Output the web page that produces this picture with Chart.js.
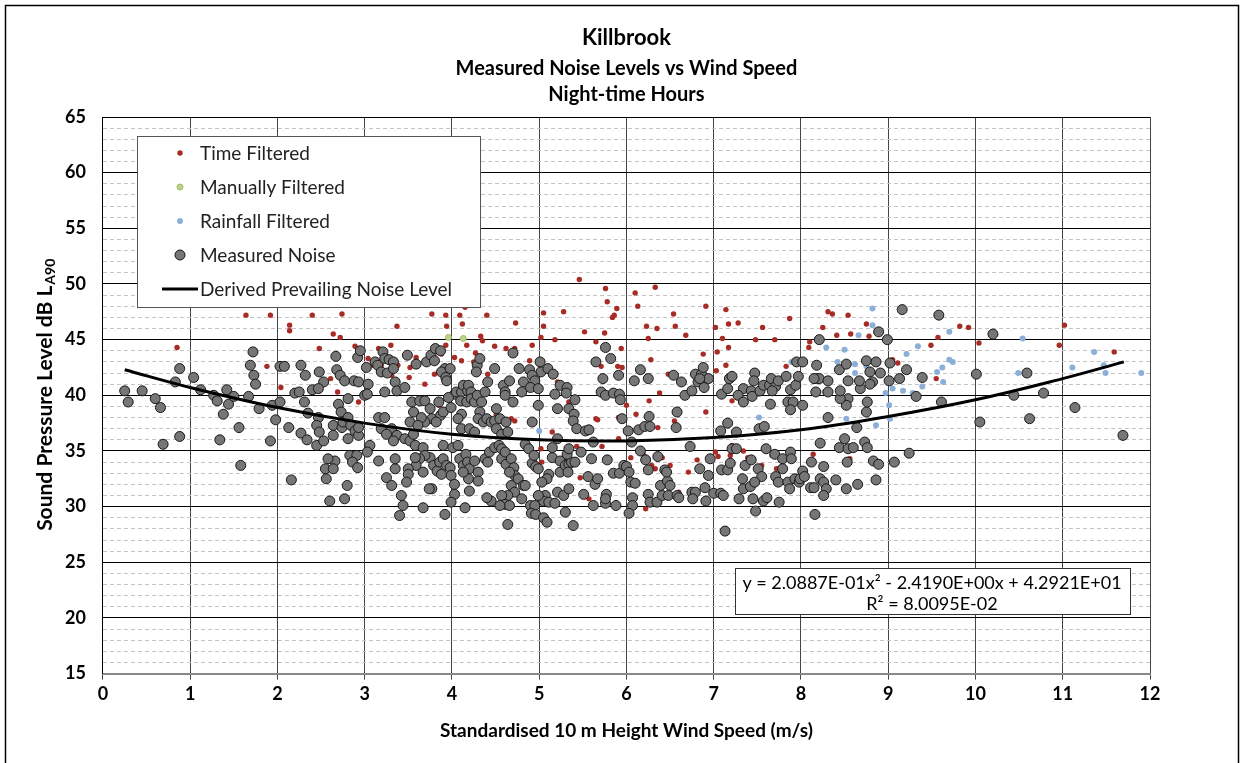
<!DOCTYPE html>
<html>
<head>
<meta charset="utf-8">
<script src="https://cdn.jsdelivr.net/npm/chart.js@4.4.0/dist/chart.umd.min.js"></script>
<style>
  html, body { margin: 0; padding: 0; background: #fff; }
  #wrap { position: relative; width: 1244px; height: 763px; }
</style>
</head>
<body>
<div id="wrap"><canvas id="chart" width="1244" height="763"></canvas></div>
<script>
// Text
const TITLE = 'Killbrook';
const SUBTITLE = ['Measured Noise Levels vs Wind Speed', 'Night-time Hours'];
const X_TITLE = 'Standardised 10 m Height Wind Speed (m/s)';
const Y_TITLE = 'Sound Pressure Level dB L';
const Y_TITLE_SUB = 'A90';
const EQUATION = 'y = 2.0887E-01x\u00B2 - 2.4190E+00x + 4.2921E+01';
const R_SQUARED = 'R\u00B2 = 8.0095E-02';
const FONT = 'Lato, "Open Sans", sans-serif';

// Measured noise (wind speed, dB) - grey points
const measuredNoise = [
  [0.25,40.4],[0.29,39.4],[0.45,40.4],[0.60,39.7],[0.66,38.9],[0.69,35.6],[0.88,42.4],[0.83,41.2],[0.88,36.3],[1.04,41.6],
  [1.12,40.5],[1.27,40.0],[1.31,39.5],[1.34,36.0],[1.38,38.3],[1.42,40.5],[1.44,39.2],[1.50,39.9],[1.56,37.1],[1.58,33.7],
  [1.67,39.9],[1.72,43.9],[1.69,42.7],[1.73,41.8],[1.75,41.0],[1.79,38.8],[1.92,35.9],[1.94,39.1],[1.98,37.8],[2.03,39.4],
  [2.03,42.6],[2.08,42.6],[2.13,37.1],[2.16,32.4],[2.20,40.2],[2.25,40.3],[2.27,42.7],[2.27,36.6],[2.32,41.8],[2.31,39.4],
  [2.34,36.0],[2.35,38.4],[2.40,40.5],
  [2.67,43.5],[2.48,42.1],[2.53,41.2],[2.47,40.6],[2.68,42.3],[2.72,41.8],[2.77,41.3],[2.81,39.7],[2.70,39.2],[2.73,38.5],
  [2.47,38.0],[2.45,37.3],[2.48,36.7],[2.45,35.5],[2.53,35.9],[2.64,36.4],[2.64,37.3],[2.74,37.1],[2.75,37.6],[2.81,38.0],
  [2.84,37.3],[2.89,36.8],[2.93,36.4],[2.93,37.1],[2.92,43.4],[2.95,44.0],[2.88,41.3],[2.93,41.2],[3.02,42.5],[3.04,41.0],
  [3.00,40.0],[3.03,40.1],[3.06,35.5],[3.03,34.9],[2.81,36.1],[2.83,34.6],[2.91,34.6],[2.86,34.0],[2.92,33.5],[2.66,34.1],
  [2.58,34.3],[2.55,33.4],[2.64,33.4],[2.56,32.5],[2.60,30.5],[2.77,30.7],[2.80,31.9],
  [3.12,43.0],[3.15,42.7],[3.21,43.9],[3.23,43.3],[3.19,42.1],[3.26,42.0],[3.28,43.2],[3.33,43.0],[3.33,42.4],[3.23,40.3],
  [3.35,41.2],[3.37,40.4],[3.46,40.7],[3.49,43.6],[3.54,39.4],[3.56,38.5],[3.52,37.6],[3.59,42.8],[3.71,43.0],[3.76,43.6],
  [3.80,43.1],[3.81,44.2],[3.87,44.0],[3.63,39.5],[3.69,39.5],[3.75,38.8],[3.77,37.9],[3.69,37.6],[3.65,38.0],[3.85,39.4],
  [3.87,38.2],[3.90,38.5],[3.82,37.6],[3.92,42.4],[3.88,42.1],[3.93,41.6],[3.98,42.4],[3.94,41.3],[3.99,38.9],[4.03,40.1],
  [3.96,39.8],[4.05,40.3],[4.11,40.3],[4.13,40.9],[4.18,40.4],[4.19,40.9],[4.22,40.3],[4.10,39.5],[4.17,39.4],[4.22,39.7],
  [4.26,39.4],[4.29,40.0],[4.38,40.3],[4.29,42.7],[4.32,43.3],[4.41,41.2],[4.28,42.1],[4.34,39.4],[4.32,38.5],[4.11,38.3],
  [4.07,37.9],[4.11,37.0],[4.20,37.0],[4.26,36.7],[4.30,37.9],[4.36,37.6],[4.40,37.9],[4.45,37.6],[4.49,37.7],[4.55,37.9],
  [4.51,37.0],[4.57,36.5],[4.62,37.6],[4.64,36.7],[4.59,40.9],[4.61,40.3],[4.61,40.0],[4.66,41.3],[4.70,39.4],[4.51,38.8],
  [4.82,41.2],[4.80,40.3],[4.77,42.4],[4.70,43.8],[4.49,42.4],
  [3.16,38.0],[3.23,38.0],[3.19,37.0],[3.31,37.0],[3.37,36.4],[3.25,36.5],[3.33,35.9],[3.46,36.1],[3.52,35.9],[3.56,36.5],
  [3.61,37.3],[3.58,35.5],[3.67,35.3],[3.75,34.4],[3.69,34.6],[3.63,34.3],[3.59,33.7],[3.58,34.4],[3.50,33.4],[3.50,32.9],
  [3.48,32.2],[3.35,33.4],[3.25,32.6],[3.31,31.9],[3.16,34.1],[3.35,34.3],[3.42,31.0],[3.44,30.1],[3.40,29.2],[3.67,33.1],
  [3.79,33.7],[3.83,33.2],[3.86,34.0],[3.90,34.3],[3.94,33.7],[3.98,33.5],[3.90,35.5],[3.99,32.8],[4.03,32.0],[4.03,31.1],
  [4.09,34.3],[4.13,33.7],[4.16,34.7],[4.18,34.0],[4.20,33.4],[4.19,32.5],[4.13,33.1],[4.26,34.1],[4.30,33.1],[4.30,32.3],
  [4.38,34.3],[4.41,34.0],[4.43,34.9],[4.49,35.3],[4.54,35.5],[4.57,35.2],[4.57,34.3],[4.61,34.9],[4.62,33.8],[4.68,34.3],
  [4.71,33.5],[4.72,32.8],[4.76,32.5],[4.66,33.1],[4.68,31.9],[4.72,31.3],[4.82,31.9],[4.80,30.7],[4.64,31.0],[4.57,31.0],
  [4.61,30.2],[4.66,30.1],[4.45,30.5],[4.40,30.8],[4.55,30.1],[4.64,28.4],[4.20,31.4],[4.15,29.9],[3.99,30.4],[3.92,29.3],
  [3.77,31.6],[3.67,29.9],[3.74,31.6],[3.88,32.9],[4.01,35.3],[4.07,35.5],
  [5.01,43.0],[4.89,42.3],[5.02,42.1],[5.10,42.4],[5.16,41.9],[4.92,41.8],[4.95,41.3],[4.90,40.7],[4.99,40.6],[5.24,40.9],
  [5.32,40.7],[5.18,40.1],[5.31,40.2],[4.99,39.1],[5.21,38.8],[5.34,38.8],[5.40,38.3],[5.39,37.7],[5.41,39.6],[4.92,37.6],
  [5.43,37.0],[5.53,36.8],[5.57,36.9],[5.62,35.8],[5.65,43.0],[5.76,44.3],[5.82,43.3],[5.73,41.5],[5.71,40.3],[5.76,40.0],
  [5.85,40.2],[5.92,40.1],[5.93,39.6],[5.91,41.8],[5.95,37.9],[6.02,36.8],[6.06,35.8],[6.09,41.3],[6.16,42.3],[6.25,41.5],
  [6.14,36.9],[6.21,37.2],[6.27,37.2],[6.26,38.1],[6.58,38.5],[6.57,37.1],[6.54,41.8],[6.63,41.2],[6.67,40.0],[6.75,40.4],
  [6.79,41.9],[6.82,41.2],[6.86,41.9],[6.88,42.5],[6.89,40.7],[6.94,41.5],[6.84,41.5],[7.09,40.1],[7.16,40.6],[7.18,41.5],
  [7.21,41.7],[7.16,37.5],[7.08,36.8],[7.21,35.2],[6.73,35.4],
  [4.84,35.6],[4.88,35.2],[4.92,33.9],[4.96,33.6],[4.99,33.4],[4.94,34.6],[5.11,32.9],[5.09,32.5],[5.03,32.2],[5.15,34.4],
  [5.24,34.1],[5.24,33.1],[5.30,33.7],[5.34,33.8],[5.37,34.0],[5.41,34.0],[5.32,34.7],[5.33,33.1],[5.21,31.3],[5.28,31.0],
  [5.34,31.6],[5.07,31.0],[5.05,30.5],[5.11,30.4],[5.18,30.3],[4.99,31.0],[4.84,31.9],[4.90,30.1],[4.95,30.1],[4.91,29.4],
  [4.96,29.3],[5.05,29.0],[5.09,28.6],[5.30,29.5],[5.39,28.3],[5.51,31.1],[5.56,32.7],[5.60,34.3],[5.64,32.0],[5.67,32.5],
  [5.77,31.1],[5.76,30.3],[5.76,30.7],[5.62,30.1],[5.85,33.0],[5.88,30.1],[5.92,33.0],[5.97,33.7],[6.00,33.6],[6.03,33.1],
  [6.05,32.2],[6.10,32.1],[6.07,30.8],[6.07,30.1],[6.03,29.4],[6.25,31.1],[6.27,30.4],[6.35,30.4],[6.39,31.9],[6.41,31.0],
  [6.48,31.0],[6.47,32.3],[6.50,31.9],[6.58,31.0],[6.60,30.8],[6.75,31.3],[6.79,31.3],[6.76,30.7],[6.90,31.7],[6.91,30.5],
  [7.00,31.2],[7.08,31.2],[7.11,31.0],[7.13,27.8],[6.22,34.2],[6.25,33.3],[6.36,34.5],[6.44,33.3],[6.46,33.1],[6.84,33.4],
  [6.94,32.8],[6.96,34.3],[7.09,33.3],[7.16,33.3],[7.19,33.9],[6.16,35.0],[5.78,34.2],[5.48,34.9],[5.34,35.2],[5.21,36.1],
  [5.15,35.3],
  [7.47,42.0],[7.46,41.3],[7.34,40.6],[7.28,40.0],[7.34,39.4],[7.43,40.4],[7.44,39.9],[7.53,40.4],[7.57,40.9],[7.64,40.9],
  [7.66,41.5],[7.71,40.8],[7.74,41.3],[7.67,40.4],[7.83,41.7],[7.88,40.5],[7.94,40.9],[7.97,41.7],[7.95,43.0],[8.02,43.0],
  [7.65,39.2],[7.85,39.4],[7.91,39.4],[7.88,38.7],[8.02,39.1],[7.52,37.0],[7.58,37.2],[7.26,36.7],[7.26,35.2],[7.60,35.2],
  [7.36,33.7],[7.43,34.2],[7.51,33.4],[7.55,32.7],[7.33,32.5],[7.34,31.6],[7.42,31.8],[7.47,32.2],[7.29,30.7],[7.45,30.7],
  [7.57,30.5],[7.61,30.8],[7.48,29.6],[7.75,30.4],[7.70,34.7],[7.79,34.3],[7.88,34.9],[7.89,34.3],[7.79,33.4],[7.71,32.7],
  [7.74,32.2],[7.85,32.2],[7.87,31.6],[7.93,32.5],[7.98,32.2],[7.99,32.5],[8.02,33.2],[8.04,32.7],[8.11,31.7],[8.15,31.7],
  [8.22,32.5],[8.26,32.2],[8.29,31.6],[8.26,31.0],[8.16,29.3],[8.22,35.7],[8.26,33.6],[8.12,34.0],[8.40,32.4],[8.52,31.6],
  [8.65,32.0],[8.86,32.4],[8.44,35.3],[8.50,36.1],[8.54,35.2],[8.60,35.3],[8.53,34.0],[8.73,35.8],[8.76,35.3],[8.83,34.1],
  [8.89,33.8],[9.07,34.0],[9.24,34.8],[8.31,38.0],[8.64,37.1],[8.75,38.5],[8.76,39.4],[8.54,39.7],[8.52,39.1],[8.45,39.7],
  [8.45,40.4],[8.17,40.3],[8.18,41.5],[8.21,41.5],[8.15,41.5],[8.31,40.3],[8.31,41.3],[8.18,42.7],[8.21,45.0],[8.44,42.3],
  [8.52,42.8],[8.54,41.3],[8.68,40.6],[8.67,41.3],[8.75,43.1],[8.79,42.1],[8.82,41.2],[8.79,41.0],[8.86,43.0],[8.91,42.0],
  [8.89,45.7],[8.99,45.0],[9.02,42.9],[9.01,41.3],[9.13,41.5],[9.21,42.3],[9.32,39.9],[9.39,41.6],[9.16,47.7],[9.58,47.2],
  [9.61,39.4],
  [10.20,45.5],[10.01,41.9],[10.59,42.0],[10.44,40.0],[10.78,40.2],[11.14,38.9],[10.05,37.6],[10.62,37.9],[11.69,36.4]
];

// Time filtered - red points
const timeFiltered = [
  [0.85,44.3],[1.64,47.2],[1.92,47.2],[1.88,42.6],[2.04,40.7],[2.14,46.3],[2.14,45.8],[2.40,47.2],
  [2.74,47.3],[2.64,45.5],[2.72,45.2],[2.48,44.2],[2.89,44.4],[2.61,41.5],[2.69,40.3],[2.93,39.4],[3.04,43.3],[3.10,42.7],
  [3.30,44.5],[3.37,46.2],[3.38,42.7],[3.52,42.5],[3.58,43.0],[3.51,41.6],[3.59,43.4],[3.77,47.3],[3.93,47.2],[3.94,46.2],
  [3.93,44.5],[4.09,47.2],[4.12,46.4],[4.17,44.5],[4.33,45.3],[4.35,44.9],[4.40,47.2],[4.49,44.4],[4.62,44.2],[4.73,46.5],
  [4.72,44.2],[4.27,43.8],[4.25,43.0],[4.41,41.9],[3.69,41.0],[3.80,41.9],[3.88,43.7],[3.85,39.1],[4.03,43.4],[4.11,43.1],
  [4.51,38.3],[4.68,37.9],[4.72,37.7],[3.31,41.8],[3.16,44.2],[3.19,42.7],[4.15,47.9],
  [5.46,50.4],[5.76,49.6],[5.78,48.4],[5.89,47.8],[5.86,47.2],[5.84,47.0],[6.10,49.2],[6.13,48.0],[6.33,49.7],[5.05,47.4],
  [5.28,47.5],[5.05,46.2],[5.02,45.2],[5.18,45.0],[4.92,44.5],[5.52,45.7],[5.75,45.6],[5.65,44.8],[5.94,44.2],[6.23,46.2],
  [6.35,46.0],[6.25,45.1],[6.54,47.3],[6.56,46.2],[6.68,45.4],[6.91,48.0],[7.14,47.7],[7.17,46.4],[7.02,46.1],[7.10,45.1],
  [7.17,44.3],[7.04,43.9],[6.88,43.7],[7.14,42.7],[7.03,42.2],[6.28,43.2],[6.48,41.9],[5.90,42.6],[5.95,42.5],[5.71,42.6],
  [4.89,43.1],[5.21,41.2],[5.34,39.4],[5.65,37.9],[5.67,37.8],[5.91,38.0],[6.00,39.1],[6.11,38.3],[6.26,39.5],[6.38,40.2],
  [6.36,37.1],[6.55,37.7],[6.91,38.5],[7.21,39.5],[5.15,36.7],[5.02,35.2],[5.03,34.0],[5.43,35.4],[5.72,35.4],[5.91,36.1],
  [6.05,34.4],[6.20,34.6],[6.29,33.7],[6.41,34.4],[6.50,33.7],[6.33,33.4],[6.71,33.1],[6.81,34.2],[7.02,34.9],[7.05,34.5],
  [7.19,34.6],[7.21,35.5],[5.47,32.6],[5.57,30.7],[5.95,33.7],[6.60,31.3],[6.22,29.8],[5.29,34.3],
  [7.28,46.5],[7.56,46.1],[7.87,46.9],[7.48,45.0],[7.70,45.0],[7.83,42.6],[8.09,44.3],[8.10,44.8],[8.25,46.1],[8.31,47.5],
  [8.36,47.3],[8.54,47.2],[8.41,45.4],[8.57,45.5],[8.75,46.4],[8.78,45.3],[9.05,43.2],[9.11,42.9],[9.49,44.5],[9.57,45.2],
  [9.55,41.5],[8.14,34.7],[7.39,34.4],[7.55,33.7],[7.67,34.6],[7.72,33.4],[8.56,34.3],[7.34,35.0],
  [9.82,46.2],[9.92,46.1],[10.04,44.7],[11.02,46.3],[10.96,44.5],[11.59,43.9]
];

// Manually filtered - green points
const manuallyFiltered = [[3.96,45.2],[4.13,45.1]];

// Rainfall filtered - blue points
const rainfallFiltered = [
  [5.00,36.8],[7.89,43.0],[8.29,44.3],[8.42,43.0],[8.50,44.1],[8.62,42.8],[8.62,42.0],[8.66,45.4],[8.75,42.6],[8.82,47.8],
  [8.82,46.3],[8.97,40.2],[9.01,39.1],[9.02,37.9],[8.86,37.3],[8.52,37.9],[9.05,40.6],[9.17,40.4],[9.21,43.7],[9.28,40.2],
  [9.34,44.4],[9.39,40.8],[9.56,42.1],[9.62,42.5],[9.63,41.2],[7.52,38.0],[7.51,40.1],[8.27,40.3],[9.70,45.7],[9.70,43.2],
  [9.74,43.0],[10.54,45.1],[10.49,42.0],[11.11,42.5],[11.36,43.9],[11.47,42.7],[11.49,42.0],[11.90,42.0]
];

// Derived prevailing noise level curve
const curveX = [0.25, 1, 2, 3, 4, 5, 6, 7, 8, 9, 10, 11, 11.7];
const curveY = [42.3, 40.7, 38.9, 37.5, 36.5, 36.0, 35.9, 36.2, 36.9, 38.1, 39.6, 41.5, 43.0];

const toPoints = arr => arr.map(p => ({ x: p[0], y: p[1] }));

// White background + outer frame
const framePlugin = {
  id: 'frame',
  beforeDraw(chart) {
    const ctx = chart.ctx;
    ctx.save();
    ctx.fillStyle = '#fff';
    ctx.fillRect(0, 0, chart.width, chart.height);
    ctx.restore();
  },
  afterDraw(chart) {
    const ctx = chart.ctx;
    ctx.save();
    ctx.strokeStyle = '#000';
    ctx.lineWidth = 1.5;
    ctx.strokeRect(5.5, 5.5, 1233, 800);
    ctx.restore();
  }
};

// Titles centred over the plot area (as in the original)
const titlePlugin = {
  id: 'plotTitles',
  afterDraw(chart) {
    const { ctx, chartArea } = chart;
    const cx = (chartArea.left + chartArea.right) / 2;
    ctx.save();
    ctx.fillStyle = '#000';
    ctx.textAlign = 'center';
    ctx.textBaseline = 'middle';
    ctx.font = `bold 22px ${FONT}`;
    ctx.fillText(TITLE, cx, 38);
    ctx.font = `bold 20px ${FONT}`;
    ctx.fillText(SUBTITLE[0], cx, 69);
    ctx.fillText(SUBTITLE[1], cx, 95);
    ctx.restore();
  }
};

// Rotated y title with subscript
const yTitlePlugin = {
  id: 'yTitle',
  afterDraw(chart) {
    const { ctx, chartArea } = chart;
    const cy = (chartArea.top + chartArea.bottom) / 2;
    ctx.save();
    ctx.translate(45, cy);
    ctx.rotate(-Math.PI / 2);
    ctx.fillStyle = '#000';
    ctx.textBaseline = 'middle';
    ctx.textAlign = 'left';
    ctx.font = `bold 21px ${FONT}`;
    const w1 = ctx.measureText(Y_TITLE).width;
    ctx.font = `bold 14px ${FONT}`;
    const w2 = ctx.measureText(Y_TITLE_SUB).width;
    const x0 = -(w1 + w2) / 2;
    ctx.font = `bold 21px ${FONT}`;
    ctx.fillText(Y_TITLE, x0, 0);
    ctx.font = `bold 14px ${FONT}`;
    ctx.fillText(Y_TITLE_SUB, x0 + w1 + 1, 5);
    ctx.restore();
  }
};

// Legend box inside plot
const legendPlugin = {
  id: 'legendBox',
  afterDraw(chart) {
    const ctx = chart.ctx;
    const entries = [
      { label: 'Time Filtered', ds: chart.data.datasets[4] },
      { label: 'Manually Filtered', ds: chart.data.datasets[3] },
      { label: 'Rainfall Filtered', ds: chart.data.datasets[2] },
      { label: 'Measured Noise', ds: chart.data.datasets[1] },
      { label: 'Derived Prevailing Noise Level', ds: chart.data.datasets[0], line: true }
    ];
    ctx.save();
    ctx.fillStyle = '#fff';
    ctx.fillRect(137, 136, 343, 171);
    ctx.strokeStyle = '#555';
    ctx.lineWidth = 1;
    ctx.strokeRect(137.5, 136.5, 343, 171);
    ctx.font = `19px ${FONT}`;
    ctx.textBaseline = 'middle';
    ctx.textAlign = 'left';
    entries.forEach((e, i) => {
      const y = 153 + i * 34;
      if (e.line) {
        ctx.strokeStyle = e.ds.borderColor;
        ctx.lineWidth = 3;
        ctx.beginPath();
        ctx.moveTo(162, y);
        ctx.lineTo(198, y);
        ctx.stroke();
      } else {
        ctx.beginPath();
        ctx.arc(180, y, e.ds.pointRadius, 0, Math.PI * 2);
        ctx.fillStyle = e.ds.backgroundColor;
        ctx.fill();
        if (e.ds.borderWidth) {
          ctx.strokeStyle = e.ds.borderColor;
          ctx.lineWidth = e.ds.borderWidth;
          ctx.stroke();
        }
      }
      ctx.fillStyle = '#222';
      ctx.fillText(e.label, 200, y + 1);
    });
    ctx.restore();
  }
};

// Trendline equation box
const equationPlugin = {
  id: 'equationBox',
  afterDraw(chart) {
    const ctx = chart.ctx;
    ctx.save();
    ctx.fillStyle = '#fff';
    ctx.fillRect(735, 568, 395, 46);
    ctx.strokeStyle = '#333';
    ctx.lineWidth = 1;
    ctx.strokeRect(735.5, 568.5, 395, 46);
    ctx.fillStyle = '#000';
    ctx.font = `18px ${FONT}`;
    ctx.textAlign = 'center';
    ctx.textBaseline = 'middle';
    ctx.fillText(EQUATION, 932, 583);
    ctx.fillText(R_SQUARED, 932, 604);
    ctx.restore();
  }
};

new Chart(document.getElementById('chart'), {
  type: 'scatter',
  data: {
    datasets: [
      {
        label: 'Derived Prevailing Noise Level',
        type: 'line',
        data: curveX.map((x, i) => ({ x: x, y: curveY[i] })),
        borderColor: '#000',
        borderWidth: 3,
        pointRadius: 0,
        tension: 0.4,
        fill: false,
        order: 0
      },
      {
        label: 'Measured Noise',
        data: toPoints(measuredNoise),
        backgroundColor: 'rgb(118,118,118)',
        borderColor: 'rgb(25,25,25)',
        borderWidth: 1,
        pointRadius: 5,
        order: 1
      },
      {
        label: 'Rainfall Filtered',
        data: toPoints(rainfallFiltered),
        backgroundColor: 'rgb(140,175,215)',
        borderColor: 'rgb(140,175,215)',
        borderWidth: 0,
        pointRadius: 3,
        order: 2
      },
      {
        label: 'Manually Filtered',
        data: toPoints(manuallyFiltered),
        backgroundColor: 'rgb(190,210,140)',
        borderColor: 'rgb(160,190,100)',
        borderWidth: 1,
        pointRadius: 3,
        order: 3
      },
      {
        label: 'Time Filtered',
        data: toPoints(timeFiltered),
        backgroundColor: 'rgb(168,44,38)',
        borderColor: 'rgb(168,44,38)',
        borderWidth: 0,
        pointRadius: 2.7,
        order: 4
      }
    ]
  },
  options: {
    responsive: false,
    animation: false,
    layout: {
      padding: { left: 48, right: 94, top: 117, bottom: 17 }
    },
    plugins: {
      legend: { display: false },
      tooltip: { enabled: false },
      title: { display: false },
      subtitle: { display: false }
    },
    scales: {
      x: {
        type: 'linear',
        min: 0,
        max: 12,
        ticks: {
          stepSize: 1,
          color: '#000',
          padding: 4,
          font: { family: FONT, size: 18, weight: 'bold' }
        },
        grid: {
          color: '#444',
          lineWidth: 1,
          tickLength: 6,
          tickColor: '#444'
        },
        border: { color: '#888', width: 2 },
        title: {
          display: true,
          text: X_TITLE,
          color: '#000',
          font: { family: FONT, size: 19, weight: 'bold', lineHeight: 1.2 },
          padding: { top: 10, bottom: 4 }
        }
      },
      yMinor: {
        type: 'linear',
        position: 'left',
        min: 15,
        max: 65,
        z: -1,
        ticks: { display: false, stepSize: 1 },
        grid: { color: '#c4c4c4', lineWidth: 1, drawTicks: false },
        border: { display: false, dash: [4, 3] }
      },
      y: {
        type: 'linear',
        position: 'left',
        min: 15,
        max: 65,
        ticks: {
          stepSize: 5,
          color: '#000',
          padding: 17,
          font: { family: FONT, size: 18, weight: 'bold' }
        },
        grid: { color: '#000', lineWidth: 1, drawTicks: false },
        border: { color: '#000', width: 1 }
      }
    }
  },
  plugins: [framePlugin, titlePlugin, yTitlePlugin, legendPlugin, equationPlugin]
});
</script>
</body>
</html>
